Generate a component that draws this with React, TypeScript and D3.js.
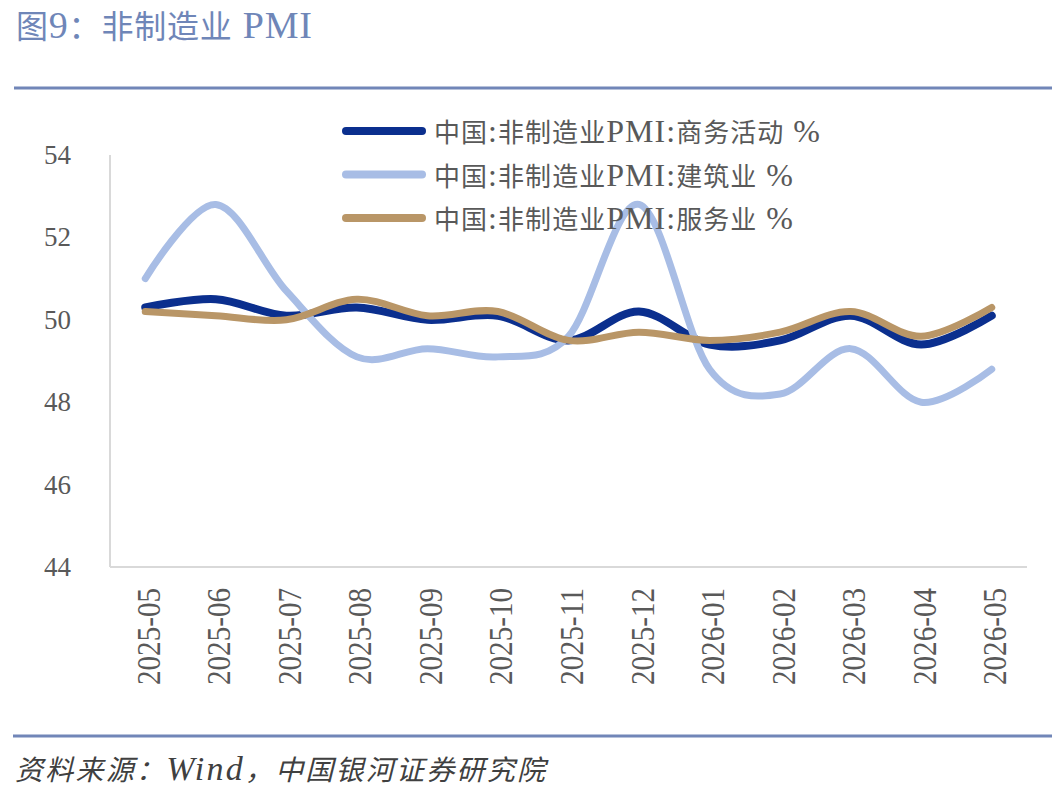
import React from "react";
import * as d3 from "d3";

const categories = [
  "2025-05", "2025-06", "2025-07", "2025-08", "2025-09", "2025-10", "2025-11",
  "2025-12", "2026-01", "2026-02", "2026-03", "2026-04", "2026-05",
];
const businessActivity = [50.3, 50.5, 50.1, 50.3, 50.0, 50.1, 49.5, 50.2, 49.4, 49.5, 50.1, 49.4, 50.1];
const construction = [51.0, 52.8, 50.7, 49.1, 49.3, 49.1, 49.6, 52.8, 48.8, 48.2, 49.3, 48.0, 48.8];
const services = [50.2, 50.1, 50.0, 50.5, 50.1, 50.2, 49.5, 49.7, 49.5, 49.7, 50.2, 49.6, 50.3];
const yTicks = [44, 46, 48, 50, 52, 54];
const seriesNames = [
  "中国:非制造业PMI:商务活动 %",
  "中国:非制造业PMI:建筑业 %",
  "中国:非制造业PMI:服务业 %",
];
const titleText = "图9：非制造业 PMI";
const sourceText = "资料来源：Wind，中国银河证券研究院";

const seriesColors = ["#0b2f8e", "#a8bde5", "#b99667"];
const seriesWidths = [8, 7, 7];
const legendWidths = [386, 359, 359];

const W = 1052;
const H = 798;
const plot = { left: 110, right: 1027, top: 155, bottom: 567 };
const latin = "'Liberation Serif', 'Times New Roman', 'Noto Sans CJK SC', serif";
const textColor = "#595959";

const cjkRe = /[\u3000-\u303f\u3400-\u9fff\uff00-\uffef]/;

function splitRuns(s: string): { t: string; cjk: boolean }[] {
  const out: { t: string; cjk: boolean }[] = [];
  for (const ch of s) {
    const c = cjkRe.test(ch);
    if (out.length && out[out.length - 1].cjk === c) out[out.length - 1].t += ch;
    else out.push({ t: ch, cjk: c });
  }
  return out;
}

function MixedText(props: {
  x: number;
  y: number;
  text: string;
  cjkSize: number;
  latinSize: number;
  fill: string;
  width?: number;
  italic?: boolean;
}) {
  const { x, y, text, cjkSize, latinSize, fill, width, italic } = props;
  return (
    <text
      x={x}
      y={y}
      fill={fill}
      fontFamily={latin}
      fontStyle={italic ? "italic" : "normal"}
      textLength={width}
      lengthAdjust="spacing"
    >
      {splitRuns(text).map((r, i) => (
        <tspan key={i} fontSize={r.cjk ? cjkSize : latinSize}>
          {r.t}
        </tspan>
      ))}
    </text>
  );
}

export default function App() {
  const x = d3.scaleBand<string>().domain(categories).range([plot.left, plot.right]);
  const y = d3.scaleLinear().domain([44, 54]).range([plot.bottom, plot.top]);
  const cx = (c: string) => (x(c) as number) + x.bandwidth() / 2;

  const line = d3
    .line<number>()
    .x((_, i) => cx(categories[i]))
    .y((v) => y(v))
    .curve(d3.curveCardinal.tension(0));

  const allSeries = [businessActivity, construction, services];

  return (
    <svg
      width={W}
      height={H}
      viewBox={`0 0 ${W} ${H}`}
      style={{ position: "absolute", left: 0, top: 0, background: "#fff" }}
    >
      <rect x={0} y={0} width={W} height={H} fill="#fff" />
      {/* title */}
      <MixedText x={16} y={38} text={titleText} cjkSize={32} latinSize={38} fill="#6f86b8" width={296} />
      <line x1={14} x2={W} y1={88} y2={88} stroke="#7186b8" strokeWidth={3} />

      {/* axes */}
      <line x1={plot.left} x2={plot.left} y1={plot.top} y2={plot.bottom} stroke="#d9d9d9" strokeWidth={2} />
      <line x1={plot.left} x2={plot.right} y1={plot.bottom} y2={plot.bottom} stroke="#d9d9d9" strokeWidth={2} />

      {yTicks.map((t) => (
        <text
          key={t}
          x={71}
          y={y(t)}
          textAnchor="end"
          dominantBaseline="central"
          fontSize={27}
          fill={textColor}
          fontFamily={latin}
        >
          {t}
        </text>
      ))}

      {categories.map((c) => (
        <text
          key={c}
          transform={`translate(${cx(c) + 3},588) rotate(-90)`}
          textAnchor="end"
          dominantBaseline="central"
          fontSize={34}
          textLength={97}
          lengthAdjust="spacingAndGlyphs"
          fill={textColor}
          fontFamily={latin}
        >
          {c}
        </text>
      ))}

      {/* series */}
      {allSeries.map((s, i) => (
        <path
          key={i}
          d={line(s) as string}
          fill="none"
          stroke={seriesColors[i]}
          strokeWidth={seriesWidths[i]}
          strokeLinecap="round"
          strokeLinejoin="round"
        />
      ))}

      {/* legend */}
      {seriesNames.map((n, i) => {
        const ly = 131 + i * 43.5;
        return (
          <g key={n}>
            <line x1={346} x2={422} y1={ly} y2={ly} stroke={seriesColors[i]} strokeWidth={8} strokeLinecap="round" />
            <MixedText x={434} y={ly + 11} text={n} cjkSize={26} latinSize={32} fill={textColor} width={legendWidths[i]} />
          </g>
        );
      })}

      {/* footer */}
      <line x1={13} x2={W} y1={736} y2={736} stroke="#7186b8" strokeWidth={3} />
      <MixedText x={15} y={780} text={sourceText} cjkSize={28} latinSize={34} fill="#404040" width={530} italic />
    </svg>
  );
}
